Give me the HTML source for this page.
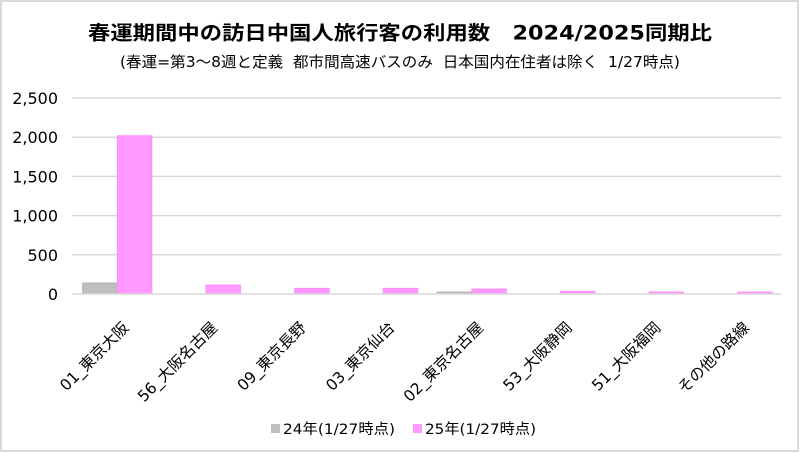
<!DOCTYPE html>
<html><head><meta charset="utf-8">
<style>
html,body{margin:0;padding:0;background:#fff;}
svg{display:block;}
text{font-family:"DejaVu Sans","Liberation Sans","Noto Sans CJK JP",sans-serif;fill:#000;}
</style></head>
<body>
<svg width="800" height="453" viewBox="0 0 800 453" xmlns="http://www.w3.org/2000/svg">
<rect x="1" y="1" width="797" height="450" fill="#fff" stroke="#D9D9D9" stroke-width="2"/>
<text x="88" y="39.5" font-size="19.5" font-weight="bold" textLength="624" lengthAdjust="spacingAndGlyphs" xml:space="preserve">春運期間中の訪日中国人旅行客の利用数　2024/2025同期比</text>
<text x="120" y="67" font-size="15" textLength="560" lengthAdjust="spacingAndGlyphs" xml:space="preserve">(春運=第3～8週と定義  都市間高速バスのみ  日本国内在住者は除く  1/27時点)</text>
<g stroke="#D9D9D9" stroke-width="1.5">
<line x1="72" y1="98" x2="781" y2="98"/>
<line x1="72" y1="137.2" x2="781" y2="137.2"/>
<line x1="72" y1="176.4" x2="781" y2="176.4"/>
<line x1="72" y1="215.6" x2="781" y2="215.6"/>
<line x1="72" y1="254.8" x2="781" y2="254.8"/>
</g>
<g font-size="16" text-anchor="end">
<text x="58" y="104">2,500</text>
<text x="58" y="143.2">2,000</text>
<text x="58" y="182.4">1,500</text>
<text x="58" y="221.6">1,000</text>
<text x="58" y="260.8">500</text>
<text x="58" y="300">0</text>
</g>
<g fill="#BFBFBF" stroke="#A9A9A9" stroke-width="0.8">
<rect x="82.7" y="283" width="34.6" height="11"/>
<rect x="437.2" y="292" width="34.6" height="2"/>
</g>
<g fill="#FF99FF" stroke="#FF85FF" stroke-width="0.8">
<rect x="117.3" y="135.7" width="34.6" height="158.3"/>
<rect x="205.9" y="285" width="34.6" height="9"/>
<rect x="294.6" y="288.3" width="34.6" height="5.7"/>
<rect x="383.2" y="288.3" width="34.6" height="5.7"/>
<rect x="471.8" y="289" width="34.6" height="5"/>
<rect x="560.4" y="291.3" width="34.6" height="2.7"/>
<rect x="649.1" y="292" width="34.6" height="2"/>
<rect x="737.7" y="292" width="34.6" height="2"/>
</g>
<line x1="72" y1="294" x2="781" y2="294" stroke="#D9D9D9" stroke-width="1.5"/>
<g font-size="15.5" text-anchor="end">
<text transform="translate(129.7,328.5) rotate(-45)">01_東京大阪</text>
<text transform="translate(218.3,328.5) rotate(-45)">56_大阪名古屋</text>
<text transform="translate(307,328.5) rotate(-45)">09_東京長野</text>
<text transform="translate(395.6,328.5) rotate(-45)">03_東京仙台</text>
<text transform="translate(484.2,328.5) rotate(-45)">02_東京名古屋</text>
<text transform="translate(572.8,328.5) rotate(-45)">53_大阪静岡</text>
<text transform="translate(661.5,328.5) rotate(-45)">51_大阪福岡</text>
<text transform="translate(750.1,328.5) rotate(-45)">その他の路線</text>
</g>
<rect x="271" y="424" width="9" height="9" fill="#BFBFBF"/>
<text x="283" y="434" font-size="14.5" textLength="112" lengthAdjust="spacingAndGlyphs">24年(1/27時点)</text>
<rect x="413" y="424" width="9" height="9" fill="#FF99FF"/>
<text x="425" y="434" font-size="14.5" textLength="111" lengthAdjust="spacingAndGlyphs">25年(1/27時点)</text>
</svg>
</body></html>
